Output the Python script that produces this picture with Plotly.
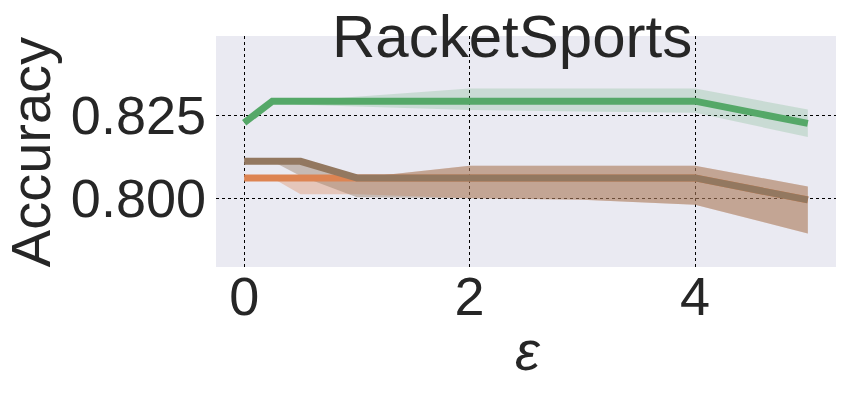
import plotly.graph_objects as go

eps = [0, 0.25, 0.5, 1, 2, 3, 4, 5]

green_mean = [0.8227, 0.8292, 0.8292, 0.8292, 0.8292, 0.8292, 0.8292, 0.8225]
green_lo = [0.8227, 0.8292, 0.8281, 0.8276, 0.8265, 0.8261, 0.8257, 0.8184]
green_hi = [0.8227, 0.8292, 0.8293, 0.8305, 0.8330, 0.8330, 0.8330, 0.8267]

orange_mean = [0.8061, 0.8061, 0.8061, 0.8061, 0.8061, 0.8061, 0.8061, 0.7995]
orange_lo = [0.8061, 0.8061, 0.8012, 0.8012, 0.8000, 0.7995, 0.7980, 0.7894]
orange_hi = [0.8061, 0.8061, 0.8061, 0.8061, 0.8098, 0.8098, 0.8098, 0.8035]

brown_mean = [0.8111, 0.8111, 0.8111, 0.8061, 0.8061, 0.8061, 0.8061, 0.7995]
brown_lo = [0.8111, 0.8111, 0.8067, 0.8003, 0.8000, 0.7995, 0.7980, 0.7894]
brown_hi = [0.8111, 0.8111, 0.8111, 0.8061, 0.8098, 0.8098, 0.8098, 0.8035]

x_ticks = [0, 2, 4]
y_ticks = [0.800, 0.825]
y_ticktext = ["0.800", "0.825"]

series = [
    (green_mean, green_lo, green_hi, "#55A868", "rgba(85,168,104,0.22)"),
    (orange_mean, orange_lo, orange_hi, "#DD8452", "rgba(221,132,82,0.35)"),
    (brown_mean, brown_lo, brown_hi, "#937860", "rgba(147,120,96,0.42)"),
]

fig = go.Figure()
for mean, lo, hi, col, fcol in series:
    fig.add_trace(go.Scatter(x=eps, y=hi, mode="lines", line=dict(width=0, color=fcol),
                             showlegend=False, hoverinfo="skip"))
    fig.add_trace(go.Scatter(x=eps, y=lo, mode="lines", line=dict(width=0, color=fcol),
                             fill="tonexty", fillcolor=fcol, showlegend=False, hoverinfo="skip"))
for mean, lo, hi, col, fcol in series:
    fig.add_trace(go.Scatter(x=eps, y=mean, mode="lines", line=dict(width=7, color=col),
                             showlegend=False))

font_family = "Liberation Sans, Arial, sans-serif"
fig.update_layout(
    width=845, height=394,
    margin=dict(l=216, r=9, t=36, b=127),
    paper_bgcolor="white",
    plot_bgcolor="#EAEAF2",
    font=dict(family=font_family, color="#262626", size=56),
    xaxis=dict(range=[-0.25, 5.25], tickvals=x_ticks, showgrid=True, gridcolor="black",
               griddash="dot", gridwidth=1, zeroline=False, showline=False,
               ticks="", tickfont=dict(size=54), automargin=False, ticklabelstandoff=-7),
    yaxis=dict(range=[0.7793, 0.8488], tickvals=y_ticks, ticktext=y_ticktext, showgrid=True,
               gridcolor="black", griddash="dot", gridwidth=1, zeroline=False, showline=False,
               ticks="", tickfont=dict(size=54), automargin=False, ticklabelstandoff=9),
    annotations=[
        dict(text="RacketSports", x=0.477, y=1.0, xref="paper", yref="paper",
             xanchor="center", yanchor="middle", showarrow=False, font=dict(size=60)),
        dict(text="Accuracy", x=-0.298, y=0.498, xref="paper", yref="paper",
             xanchor="center", yanchor="middle", textangle=-90, showarrow=False,
             font=dict(size=56)),
        dict(text="<i>ε</i>", x=0.503, y=-0.36, xref="paper", yref="paper",
             xanchor="center", yanchor="middle", showarrow=False, font=dict(size=56)),
    ],
)

fig.write_html("out.html", config={"displayModeBar": False},
               post_script="document.body.style.margin='0';")
